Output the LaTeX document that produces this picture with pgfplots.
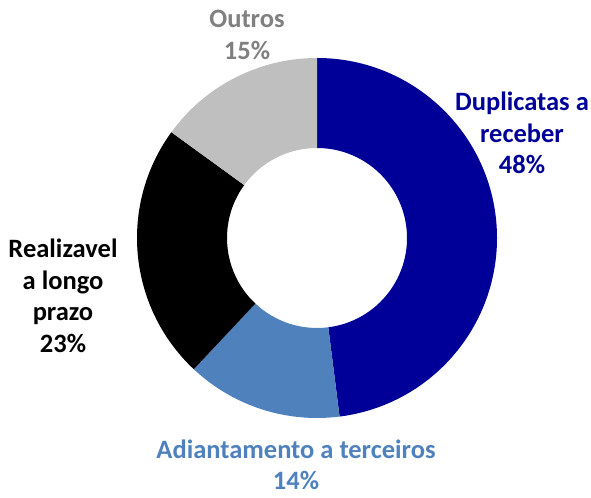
\documentclass[border=0pt]{standalone}
\usepackage{pgfplots}
\usepackage{pgfplotstable}
\pgfplotsset{compat=1.18}
\usepackage{fontspec}
\setmainfont{Carlito}
\definecolor{cDup}{RGB}{0,0,153}
\definecolor{cAdi}{RGB}{79,129,189}
\definecolor{cRea}{RGB}{0,0,0}
\definecolor{cOut}{RGB}{191,191,191}
\definecolor{tOut}{RGB}{128,128,128}

\pgfplotstableread{
name value
Duplicatas 48
Adiantamento 14
Realizavel 23
Outros 15
}\piedata

\newcommand\slice[3]{%
  \fill[#3] ([shift={(#1:180bp)}]axis cs:317,260) arc[start angle=#1,end angle=#2,radius=180bp]
    -- ([shift={(#2:90bp)}]axis cs:317,260) arc[start angle=#2,end angle=#1,radius=90bp] -- cycle;%
}

\begin{document}
\begin{tikzpicture}
\pgfplotstablegetelem{0}{value}\of\piedata \let\vA\pgfplotsretval
\pgfplotstablegetelem{1}{value}\of\piedata \let\vB\pgfplotsretval
\pgfplotstablegetelem{2}{value}\of\piedata \let\vC\pgfplotsretval
\pgfplotstablegetelem{3}{value}\of\piedata \let\vD\pgfplotsretval
\pgfmathsetmacro\aA{90}
\pgfmathsetmacro\aB{\aA-3.6*\vA}
\pgfmathsetmacro\aC{\aB-3.6*\vB}
\pgfmathsetmacro\aD{\aC-3.6*\vC}
\pgfmathsetmacro\aE{\aD-3.6*\vD}
\begin{axis}[x=1bp,y=1bp,xmin=0,xmax=591,ymin=0,ymax=498,hide axis,clip=false,scale only axis]
\path (axis cs:0,0) rectangle (axis cs:591,498);
\slice{\aA}{\aB}{cDup}
\slice{\aB}{\aC}{cAdi}
\slice{\aC}{\aD}{cRea}
\slice{\aD}{\aE}{cOut}
\begin{scope}[every node/.style={align=center,inner sep=0pt,font=\fontsize{26.5bp}{31.5bp}\selectfont\bfseries}]
\node[text=tOut] at (axis cs:247,463) {Outros\\15\%};
\node[text=cDup] at (axis cs:522,365) {Duplicatas a\\receber\\48\%};
\node[text=black] at (axis cs:63,202) {Realizavel\\a longo\\prazo\\23\%};
\node[text=cAdi] at (axis cs:296,33) {Adiantamento a terceiros\\14\%};
\end{scope}
\end{axis}
\end{tikzpicture}
\end{document}
